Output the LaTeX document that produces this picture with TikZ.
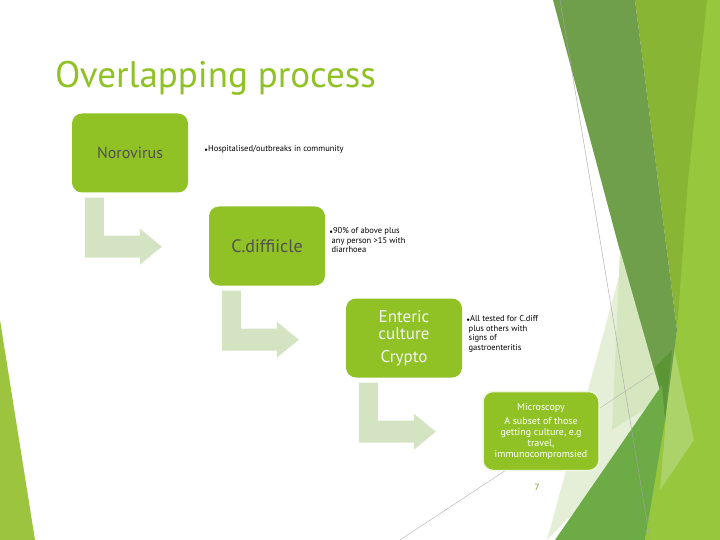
\documentclass[tikz,border=0pt]{standalone}
\usepackage{fontspec}
\setmainfont{PT Sans}
\usetikzlibrary{positioning,calc}

\definecolor{facet}{HTML}{90C226}
\definecolor{bendgreen}{HTML}{D4E4C2}
\definecolor{darkband}{HTML}{6F9F4B}
\definecolor{deepband}{HTML}{5C9536}
\definecolor{midband}{HTML}{88B534}
\definecolor{brightband}{HTML}{97C73D}
\definecolor{lightband}{HTML}{ABD36A}
\definecolor{paleband}{HTML}{E5EFD8}
\definecolor{paleband2}{HTML}{D6E7BF}
\definecolor{lowband}{HTML}{6DAB46}
\definecolor{leftband}{HTML}{9DC43F}
\definecolor{boxtext}{HTML}{505050}

\newcommand{\dotmark}{{\fontsize{5}{5}\selectfont$\bullet$}}

\begin{document}
\begin{tikzpicture}[x=1pt,y=-1pt,
		stage/.style={rectangle, rounded corners=10pt, fill=facet, minimum width=116pt, minimum height=79pt, align=center, inner sep=2pt},
		note/.style={anchor=north west, align=left, inner sep=0pt, font=\fontsize{8.5}{9.5}\selectfont},
		bentarrow/.style={fill=bendgreen}
	]
	\useasboundingbox (0,0) rectangle (720,540);
	\fill[white] (0,0) rectangle (720,540);

	% Facet background
	\fill[brightband] (690,0) -- (720,0) -- (720,540) -- (645,540) -- (663,420) -- (677,330) -- cycle;
	\fill[lightband] (671,335) -- (694,440) -- (660,490) -- (666,420) -- cycle;
	\fill[midband] (635,0) -- (707,0) -- (688,180) -- (677,330) -- cycle;
	\fill[darkband] (553,0) -- (635,0) -- (677,330) -- (665,420) -- cycle;
	\fill[deepband] (655,367) -- (672,350) -- (665,420) -- cycle;
	\fill[paleband] (623,262) -- (665,420) -- (547,540) -- cycle;
	\fill[paleband2] (620,250) -- (662,398) -- (612,430) -- cycle;
	\fill[lowband] (555,540) -- (662,385) -- (665,420) -- (645,540) -- cycle;
	\draw[gray!70, line width=0.4pt] (560,0) -- (650,540);
	\draw[gray!60, line width=0.4pt] (400,540) -- (653,373);
	\fill[leftband] (0,320) -- (35,540) -- (0,540) -- cycle;

	% Title
	\node[anchor=base west, inner sep=0pt, text=facet, font=\fontsize{37}{40}\selectfont] (title) at (55,88) {Overlapping process};

	% Stages
	\node[stage, text=boxtext, font=\fontsize{16}{18}\selectfont] (noro) at (130,153) {Norovirus};
	\node[stage, text=boxtext, font=\fontsize{18}{20}\selectfont] (cdiff) at (267,246) {C.diffiicle};
	\node[stage, text=white!95!black, font=\fontsize{17}{17}\selectfont] (enteric) at (404,338) {Enteric\\culture\\[6pt]Crypto};
	\node[stage, text=white, draw=white!85!facet, line width=1.5pt, font=\fontsize{10}{11}\selectfont] (micro) at (541,431) {Microscopy\\[3pt]A subset of those\\getting culture, e.g\\travel,\\immunocompromsied};

	% Bent arrows
	\foreach \src in {noro,cdiff,enteric}{
		\fill[bentarrow] ($(\src.south west)+(13,5)$) -- ++(19,0) -- ++(0,38) -- ++(36,0) -- ++(0,-7) -- ++(22,18) -- ++(-22,18) -- ++(0,-7) -- ++(-55,0) -- cycle;
	}

	% Notes
	\node[note, anchor=west] (noronote) at ($(noro.east)+(16,-4)$) {\dotmark Hospitalised/outbreaks in community};
	\node[note] (cdiffnote) at ($(cdiff.north east)+(4,21)$) {\dotmark 90\% of above plus\\\ any person >15 with\\\ diarrhoea};
	\node[note] (entnote) at ($(enteric.north east)+(4,17)$) {\dotmark All tested for C.diff\\\ plus others with\\\ signs of\\\ gastroenteritis};

	% Slide number
	\node[text=facet!80!black, font=\fontsize{9}{11}\selectfont] (pagenum) at (537,487) {7};
\end{tikzpicture}
\end{document}
